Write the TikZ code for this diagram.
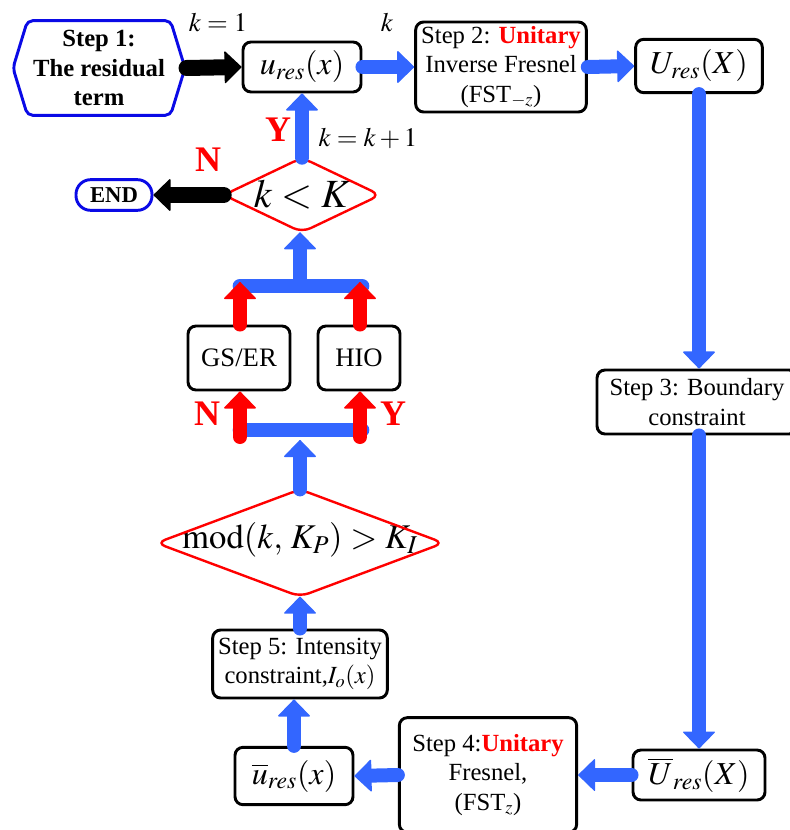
\documentclass[tikz,border=0pt]{standalone}
\usepackage{mathptmx}
\usepackage{fontspec}
\setmainfont{Liberation Serif}
\usetikzlibrary{arrows.meta,shapes.symbols}
\definecolor{arrowblue}{RGB}{51,102,255}
\definecolor{hexblue}{RGB}{10,10,230}

\begin{document}
\begin{tikzpicture}[x=0.75pt,y=0.75pt,yscale=-1,xscale=1,
  box/.style={draw, line width=2.2pt, rounded corners=6pt, align=center, inner sep=1pt, font=\fontsize{18.5}{22}\selectfont},
  decision/.style={inner sep=0pt},
  rhomb/.style={draw=red, line width=1.8pt, rounded corners=7pt},
  bluearrow/.style={draw=arrowblue, line width=10.5pt, line cap=round, -{Triangle[round, line width=1pt, width=25pt, length=13pt]}},
  blackarrow/.style={bluearrow, draw=black, line width=12pt},
  redarrow/.style={bluearrow, draw=red},
  bluebar/.style={draw=arrowblue, line width=11pt, line cap=round},
  yn/.style={text=red, font=\fontsize{27}{30}\selectfont\bfseries}]
\useasboundingbox (0,0) rectangle (789,830);

% Text Node
\node[draw=hexblue, line width=2.2pt, shape=signal, signal to=west and east, signal pointer angle=146, rounded corners=4pt, minimum width=129pt, minimum height=71pt, inner sep=0pt, align=center, font=\fontsize{18.5}{22}\selectfont\bfseries] (step1) at (99,68) {Step 1:\\The residual\\term};
% Text Node
\node[box, minimum width=88.5pt, minimum height=37.5pt, font=\fontsize{24}{26}\selectfont] (ures) at (302,67) {$u_{res}(x)$};
% Text Node
\node[box, minimum width=128pt, minimum height=67.5pt] (step2) at (501,67) {Step 2: \textbf{\color{red}Unitary}\\Inverse Fresnel\\(FST$_{-z}$)};
% Text Node
\node[box, minimum width=95pt, minimum height=40pt, font=\fontsize{24}{26}\selectfont] (Ures) at (699,66) {$U_{res}(X)$};
% Text Node
\node[box, minimum width=150pt, minimum height=48pt] (step3) at (697,402) {Step 3: Boundary\\constraint};
% Text Node
\node[box, minimum width=99pt, minimum height=37.5pt, font=\fontsize{24}{26}\selectfont] (Ubar) at (699,775) {$\overline{U}_{res}(X)$};
% Text Node
\node[box, minimum width=133pt, minimum height=86pt] (step4) at (488,775) {Step 4:\textbf{\color{red}Unitary}\\Fresnel,\\(FST$_{z}$)};
% Text Node
\node[box, minimum width=88.5pt, minimum height=43pt, font=\fontsize{24}{26}\selectfont] (ubar) at (294,776) {$\overline{u}_{res}(x)$};
% Text Node
\node[box, minimum width=131pt, minimum height=51pt] (step5) at (300,664) {Step 5: Intensity\\constraint,$I_{o}(x)$};
% Text Node
\node[decision, minimum width=215pt, minimum height=80pt, text depth=11pt, font=\fontsize{26}{28}\selectfont] (mod) at (300,543) {$\mathrm{mod}(k,\,K_{P})>K_{I}$};
\draw[rhomb] (mod.west) -- (mod.north) -- (mod.east) -- (mod.south) -- cycle;
% Text Node
\node[box, minimum width=76.5pt, minimum height=48pt, font=\fontsize{20}{22}\selectfont] (gs) at (239,358) {GS/ER};
% Text Node
\node[box, minimum width=61.5pt, minimum height=48pt, font=\fontsize{20}{22}\selectfont] (hio) at (359,358) {HIO};
% Text Node
\node[decision, minimum width=117pt, minimum height=55.5pt, font=\fontsize{30}{32}\selectfont] (kK) at (302,195) {$k<K$};
\draw[rhomb] (kK.west) -- (kK.north) -- (kK.east) -- (kK.south) -- cycle;
% Text Node
\node[draw=hexblue, line width=2.2pt, rounded corners=11pt, minimum width=57pt, minimum height=23pt, inner sep=0pt, font=\fontsize{17}{20}\selectfont\bfseries] (end) at (114,195) {END};
% Text Node
\node[font=\fontsize{20}{22}\selectfont] (k1) at (218,22) {$k=1$};
% Text Node
\node[font=\fontsize{20}{22}\selectfont] (kk) at (387,22) {$k$};
% Text Node
\node[font=\fontsize{20}{22}\selectfont] (kinc) at (368,138) {$k=k+1$};
% Text Node
\node[yn] (yes1) at (278,130) {Y};
% Text Node
\node[yn] (no1) at (208,160) {N};
% Text Node
\node[yn] (no2) at (207,414) {N};
% Text Node
\node[yn] (yes2) at (393,414) {Y};

% Junctions
\coordinate (botL) at (240,430);
\coordinate (botR) at (362,430);
\coordinate (botM) at (300,440);
\coordinate (topL) at (240,286);
\coordinate (topR) at (362,286);
\coordinate (topM) at (300,286);
\coordinate (redL) at (240,437);
\coordinate (redR) at (360,437);
\coordinate (gsup) at (240,282);
\coordinate (hioup) at (360,282);

% Connection
\draw[blackarrow] (step1.east) -- (ures.west);
% Connection
\draw[bluearrow] (ures.east) -- (step2.west);
% Connection
\draw[bluearrow] (step2.east) -- (Ures.west);
% Connection
\draw[bluearrow] (Ures.south) -- (Ures.south |- step3.north);
% Connection
\draw[bluearrow] (Ures.south |- step3.south) -- (Ubar.north);
% Connection
\draw[bluearrow] (Ubar.west) -- (step4.east);
% Connection
\draw[bluearrow] (step4.west) -- (ubar.east);
% Connection
\draw[bluearrow] (ubar.north) -- (ubar.north |- step5.south);
% Connection
\draw[bluearrow] (step5.north) -- (mod.south);
% Connection
\draw[bluebar] (botL) -- (botR);
% Connection
\draw[bluearrow] (mod.north) -- (botM);
% Connection
\draw[redarrow] (redL) -- (redL |- gs.south);
% Connection
\draw[redarrow] (redR) -- (redR |- hio.south);
% Connection
\draw[bluebar] (topL) -- (topR);
% Connection
\draw[redarrow] (gs.north -| gsup) -- (gsup);
% Connection
\draw[redarrow] (hio.north -| hioup) -- (hioup);
% Connection
\draw[bluearrow] (topM) -- (topM |- kK.south);
% Connection
\draw[bluearrow] (kK.north) -- (kK.north |- ures.south);
% Connection
\draw[blackarrow] (kK.west) -- (end.east);

\end{tikzpicture}
\end{document}
